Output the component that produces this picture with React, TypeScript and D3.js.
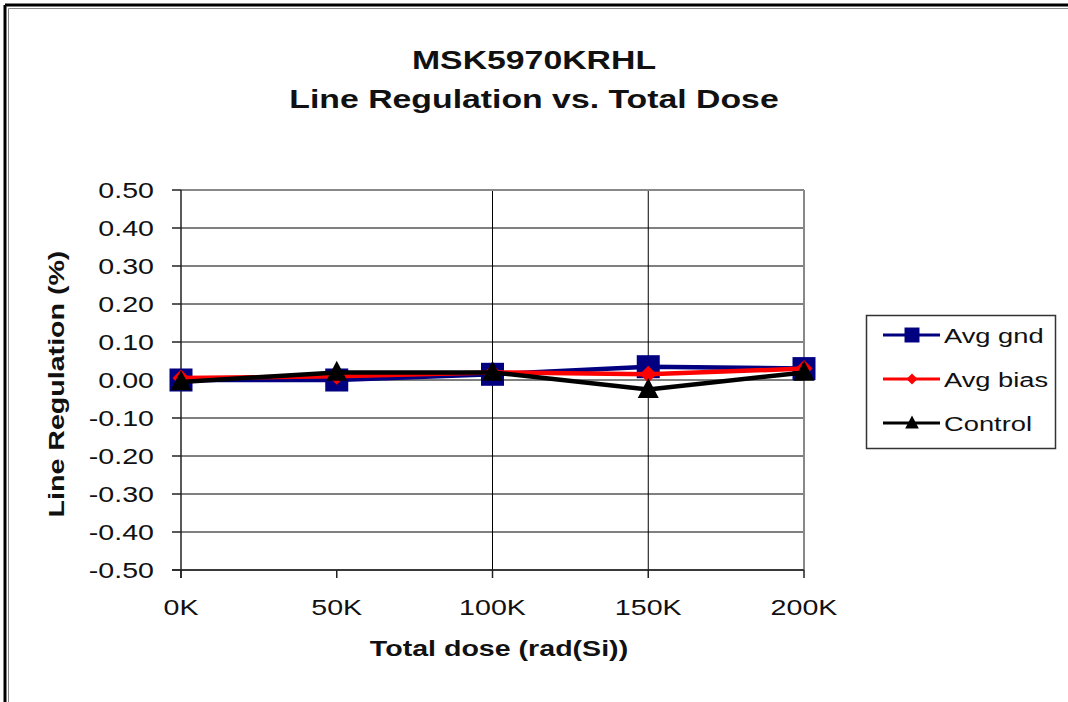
import React from "react";
import * as d3 from "d3";

const categories = ["0K", "50K", "100K", "150K", "200K"];
const avgGnd = [0.0, 0.0, 0.015, 0.035, 0.03];
const avgBias = [0.005, 0.01, 0.02, 0.015, 0.03];
const control = [-0.005, 0.02, 0.02, -0.025, 0.02];
const yTicks = [0.5, 0.4, 0.3, 0.2, 0.1, 0, -0.1, -0.2, -0.3, -0.4, -0.5];
const seriesNames = ["Avg gnd", "Avg bias", "Control"];

const W = 1068;
const H = 702;
const FONT = "'Liberation Sans', Arial, sans-serif";
const SX = 1.3;

function T(props: {
  x: number;
  y: number;
  size: number;
  anchor?: "start" | "middle" | "end";
  bold?: boolean;
  rotate?: number;
  children: React.ReactNode;
}) {
  const { x, y, size, anchor = "start", bold = false, rotate = 0, children } = props;
  return (
    <text
      transform={`translate(${x},${y}) rotate(${rotate}) scale(${SX},1)`}
      textAnchor={anchor}
      fontSize={size}
      fontWeight={bold ? "bold" : "normal"}
      fill="#111"
    >
      {children}
    </text>
  );
}

export default function App() {
  const x = d3.scalePoint<string>().domain(categories).range([181, 804]);
  const y = d3.scaleLinear().domain([-0.5, 0.5]).range([570, 190]);
  const line = d3
    .line<number>()
    .x((_, i) => x(categories[i]) as number)
    .y((d) => y(d));

  const series = [
    { name: seriesNames[0], data: avgGnd, color: "#000080", marker: "square" },
    { name: seriesNames[1], data: avgBias, color: "#ff0000", marker: "diamond" },
    { name: seriesNames[2], data: control, color: "#000000", marker: "triangle" },
  ];

  const marker = (kind: string, cx: number, cy: number, color: string, key: string, scale = 1) => {
    if (kind === "square") {
      const s = 11.5 * scale;
      return <rect key={key} x={cx - s} y={cy - s} width={2 * s} height={2 * s} fill={color} />;
    }
    if (kind === "diamond") {
      const s = 8.5 * scale;
      return (
        <path key={key} d={`M${cx},${cy - s}L${cx + s},${cy}L${cx},${cy + s}L${cx - s},${cy}Z`} fill={color} />
      );
    }
    const s = 10.5 * scale;
    return (
      <path key={key} d={`M${cx},${cy - s * 1.1}L${cx + s},${cy + s * 0.8}L${cx - s},${cy + s * 0.8}Z`} fill={color} />
    );
  };

  const vGrid = ["100K", "150K"];

  return (
    <svg width={W} height={H} style={{ display: "block", position: "absolute", left: 0, top: 0 }} fontFamily={FONT}>
      <rect x={0} y={0} width={W} height={H} fill="#fff" />
      {/* outer frame: top and left only */}
      <line x1={5} y1={5} x2={W} y2={5} stroke="#000" strokeWidth={3} />
      <line x1={5} y1={5} x2={5} y2={H} stroke="#000" strokeWidth={3} />
      <line x1={8.5} y1={8.5} x2={W} y2={8.5} stroke="#888" strokeWidth={1} />
      <line x1={8.5} y1={8.5} x2={8.5} y2={H} stroke="#888" strokeWidth={1} />

      {/* title */}
      <T x={534} y={69} size={26} anchor="middle" bold>
        MSK5970KRHL
      </T>
      <T x={534} y={108} size={26} anchor="middle" bold>
        Line Regulation vs. Total Dose
      </T>

      {/* horizontal gridlines */}
      {yTicks.map((t) => (
        <line key={"g" + t} x1={181} x2={804} y1={y(t)} y2={y(t)} stroke="#000" strokeWidth={1} />
      ))}
      {/* vertical gridlines */}
      {vGrid.map((c) => (
        <line key={"v" + c} x1={x(c)} x2={x(c)} y1={190} y2={570} stroke="#000" strokeWidth={1} />
      ))}
      {/* plot border top/right gray */}
      <line x1={181} x2={804} y1={190} y2={190} stroke="#888" strokeWidth={2} />
      <line x1={804} x2={804} y1={190} y2={570} stroke="#888" strokeWidth={2} />

      {/* y axis */}
      <line x1={181} x2={181} y1={190} y2={578} stroke="#222" strokeWidth={1.5} />
      {yTicks.map((t) => (
        <g key={"yt" + t}>
          <line x1={172} x2={181} y1={y(t)} y2={y(t)} stroke="#222" strokeWidth={1.5} />
          <T x={154} y={y(t) + 8} size={22} anchor="end">
            {t.toFixed(2)}
          </T>
        </g>
      ))}
      {/* x axis */}
      <line x1={172} x2={804} y1={570} y2={570} stroke="#222" strokeWidth={1.5} />
      {categories.map((c) => (
        <g key={"xt" + c}>
          <line x1={x(c)} x2={x(c)} y1={570} y2={578} stroke="#222" strokeWidth={1.5} />
          <T x={x(c) as number} y={615} size={22} anchor="middle">
            {c}
          </T>
        </g>
      ))}

      {/* axis titles */}
      <T x={499} y={656} size={22} anchor="middle" bold>
        Total dose (rad(Si))
      </T>
      <T x={64} y={384} size={22} anchor="middle" bold rotate={-90}>
        Line Regulation (%)
      </T>

      {/* series */}
      {series.map((s) => (
        <g key={s.name}>
          <path d={line(s.data) || ""} fill="none" stroke={s.color} strokeWidth={4.5} strokeLinejoin="round" />
          {s.data.map((v, i) => marker(s.marker, x(categories[i]) as number, y(v), s.color, s.name + i))}
        </g>
      ))}

      {/* legend */}
      <rect x={866.5} y={315.5} width={189} height={133} fill="#fff" stroke="#333" strokeWidth={1.5} />
      {series.map((s, i) => {
        const ly = 335 + i * 44;
        return (
          <g key={"lg" + s.name}>
            <line x1={883} x2={940} y1={ly} y2={ly} stroke={s.color} strokeWidth={3} />
            {marker(s.marker, 912, ly, s.color, "lm" + i, 0.65)}
            <T x={944} y={ly + 8} size={21}>
              {s.name}
            </T>
          </g>
        );
      })}
    </svg>
  );
}
